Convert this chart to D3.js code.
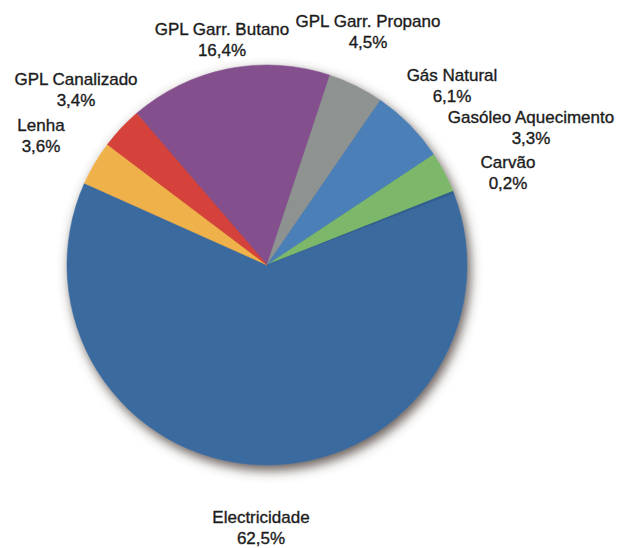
<!DOCTYPE html>
<html>
<head>
<meta charset="utf-8">
<script src="https://cdn.jsdelivr.net/npm/d3@7/dist/d3.min.js"></script>
<style>
  html, body { margin: 0; padding: 0; background: #ffffff; }
  svg { display: block; }
  text { font-family: "Liberation Sans", Arial, Helvetica, sans-serif; fill: #1c1c1c; stroke: #1c1c1c; stroke-width: 0.35px; }
</style>
</head>
<body>
<svg id="chart" width="619" height="548"></svg>
<script>
// Data (clockwise order starting from the top-left purple slice)
const categories = ["GPL Garr. Butano", "GPL Garr. Propano", "Gás Natural", "Gasóleo Aquecimento", "Carvão", "Electricidade", "Lenha", "GPL Canalizado"];
const values = [16.4, 4.5, 6.1, 3.3, 0.2, 62.5, 3.6, 3.4];
const valueLabels = ["16,4%", "4,5%", "6,1%", "3,3%", "0,2%", "62,5%", "3,6%", "3,4%"];
const colors = ["#834f8d", "#8e9392", "#4b7fb7", "#7cb76b", "#2f5e8e", "#3a6a9f", "#efb14a", "#d5433b"];
// label anchor positions (layout only)
const labelX = [222, 368, 452, 531, 508, 261, 41, 76];
const labelY = [35, 27, 81, 123, 168, 523, 131, 85];

const svg = d3.select("#chart");
const cx = 267, cy = 265, R = 200;

const defs = svg.append("defs");
const f = defs.append("filter").attr("id", "shadow")
  .attr("x", "-20%").attr("y", "-20%").attr("width", "140%").attr("height", "140%");
f.append("feDropShadow").attr("dx", 3).attr("dy", 5).attr("stdDeviation", 6)
  .attr("flood-color", "#4a3c34").attr("flood-opacity", 0.85);

const start = -40.7 * Math.PI / 180;
const pie = d3.pie().sort(null).value(d => d)
  .startAngle(start).endAngle(start + 2 * Math.PI);
const arc = d3.arc().innerRadius(0).outerRadius(R);

const g = svg.append("g").attr("transform", `translate(${cx},${cy})`);
g.append("g").attr("filter", "url(#shadow)")
  .selectAll("path").data(pie(values)).join("path")
  .attr("d", arc)
  .attr("fill", (d, i) => colors[i])
  .attr("stroke", (d, i) => colors[i])
  .attr("stroke-width", 0.5);

const labels = svg.append("g").selectAll("text").data(categories).join("text")
  .attr("text-anchor", "middle")
  .attr("font-size", 17)
  .attr("x", (d, i) => labelX[i])
  .attr("y", (d, i) => labelY[i]);
labels.append("tspan").attr("x", (d, i) => labelX[i]).text(d => d);
labels.append("tspan").attr("x", (d, i) => labelX[i]).attr("dy", 21).text((d, i) => valueLabels[i]);
</script>
</body>
</html>
